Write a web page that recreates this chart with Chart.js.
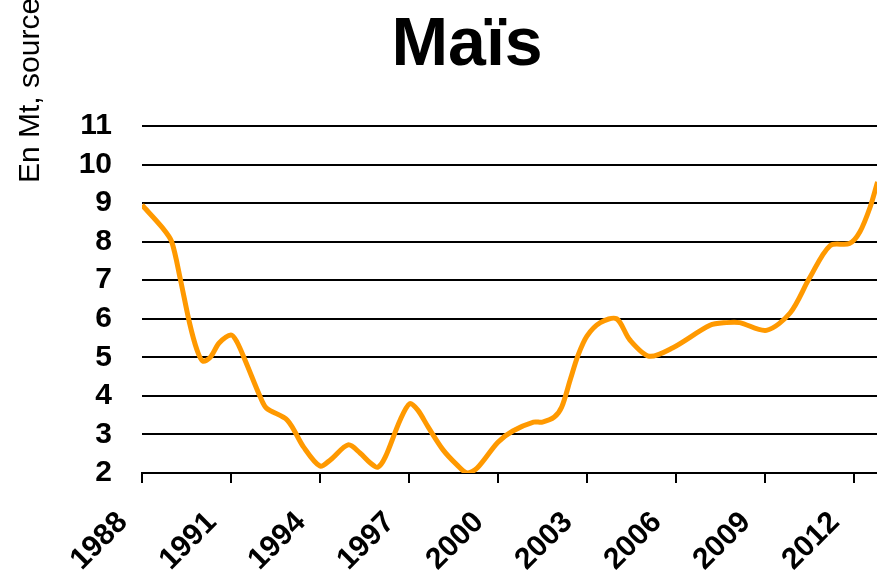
<!DOCTYPE html>
<html>
<head>
<meta charset="utf-8">
<script src="https://cdn.jsdelivr.net/npm/chart.js@4/dist/chart.umd.min.js"></script>
<style>
  html, body { margin: 0; padding: 0; background: #fff; }
  #wrap { width: 877px; height: 573px; }
</style>
</head>
<body>
<div id="wrap"><canvas id="chartMais"></canvas></div>
<script>
// values (year, Mt)
let years = [1988.0, 1988.7, 1989.0, 1989.3, 1989.6, 1989.85, 1990.05, 1990.3, 1990.6, 1991.0,
    1991.2, 1991.5, 1992.0, 1992.2, 1992.9, 1993.45, 1994.0, 1994.35, 1994.95, 1995.35,
    1995.7, 1995.95, 1996.2, 1996.7, 1997.03, 1997.3, 1997.65, 1998.15, 1998.62, 1998.96,
    1999.3, 2000.0, 2000.5, 2001.2, 2001.5, 2001.9, 2002.15, 2002.45, 2002.7, 2003.0,
    2003.45, 2004.0, 2004.45, 2005.1, 2005.9, 2007.15, 2007.7, 2008.15, 2009.05, 2009.85,
    2010.5, 2011.2, 2011.85, 2012.2, 2012.55, 2012.8, 2013.0];
let mais = [8.95, 8.35, 8.0, 7.0, 5.9, 5.2, 4.9, 5.0, 5.37, 5.58,
    5.4, 4.88, 3.95, 3.68, 3.37, 2.67, 2.18, 2.34, 2.73, 2.52,
    2.26, 2.15, 2.41, 3.37, 3.8, 3.63, 3.19, 2.6, 2.21, 2.0,
    2.13, 2.8, 3.09, 3.32, 3.32, 3.45, 3.71, 4.45, 5.05, 5.55,
    5.9, 6.0, 5.45, 5.03, 5.25, 5.83, 5.9, 5.9, 5.7, 6.15,
    7.05, 7.9, 7.95, 8.25, 8.9, 9.55, 10.0];
let yTicks = [2, 3, 4, 5, 6, 7, 8, 9, 10, 11];
let xTicks = [1988, 1991, 1994, 1997, 2000, 2003, 2006, 2009, 2012];
let titre = 'Maïs';
let yTitre = 'En Mt, source';

let points = [];
for (let i = 0; i < years.length; i++) {
    points.push({x: years[i], y: mais[i]});
}

// titre et legende de l'axe y dessines a la main
const textes = {
    id: 'textes',
    afterDraw(chart) {
        let ctx = chart.ctx;
        ctx.save();
        ctx.fillStyle = '#000';
        ctx.font = 'bold 68px "Liberation Sans", Arial, sans-serif';
        ctx.textAlign = 'center';
        ctx.textBaseline = 'alphabetic';
        ctx.fillText(titre, 467, 65);
        ctx.translate(39, 183);
        ctx.rotate(-Math.PI / 2);
        ctx.font = '30px "Liberation Sans", Arial, sans-serif';
        ctx.textAlign = 'left';
        ctx.fillText(yTitre, 0, 0);
        ctx.restore();
    }
};

let chartMais = new Chart(document.getElementById('chartMais'), {
    type: 'line',
    data: {
        datasets: [{
            label: titre,
            data: points,
            borderColor: '#FF9900',
            borderWidth: 5,
            pointRadius: 0,
            tension: 0.3,
            fill: false,
        }]
    },
    options: {
        responsive: true,
        maintainAspectRatio: false,
        animation: false,
        layout: { padding: { top: 126, right: 0, bottom: 0, left: 0 } },
        plugins: {
            legend: { display: false },
            tooltip: { enabled: false },
        },
        scales: {
            x: {
                type: 'linear',
                min: 1988,
                max: 2012.78,
                afterBuildTicks: function(scale) {
                    scale.ticks = xTicks.map(v => ({value: v}));
                },
                afterFit: function(scale) {
                    scale.height = 100;
                    scale.paddingLeft = 0;
                    scale.paddingRight = 0;
                },
                grid: {
                    drawOnChartArea: false,
                    drawTicks: true,
                    tickLength: 10,
                    color: '#000',
                    lineWidth: 2,
                },
                border: { display: true, color: '#000', width: 2 },
                ticks: {
                    autoSkip: false,
                    minRotation: 45,
                    maxRotation: 45,
                    padding: 22,
                    labelOffset: -19,
                    color: '#000',
                    font: { family: '"Liberation Sans", Arial, sans-serif', size: 30, weight: 'bold' },
                    callback: v => String(v),
                },
            },
            y: {
                min: 2,
                max: 11,
                afterBuildTicks: function(scale) {
                    scale.ticks = yTicks.map(v => ({value: v}));
                },
                afterFit: function(scale) { scale.width = 142; },
                grid: {
                    drawTicks: false,
                    color: '#000',
                    lineWidth: 2,
                },
                border: { display: false },
                ticks: {
                    autoSkip: false,
                    padding: 30,
                    color: '#000',
                    font: { family: '"Liberation Sans", Arial, sans-serif', size: 30, weight: 'bold' },
                },
            },
        },
    },
    plugins: [textes],
});
</script>
</body>
</html>
